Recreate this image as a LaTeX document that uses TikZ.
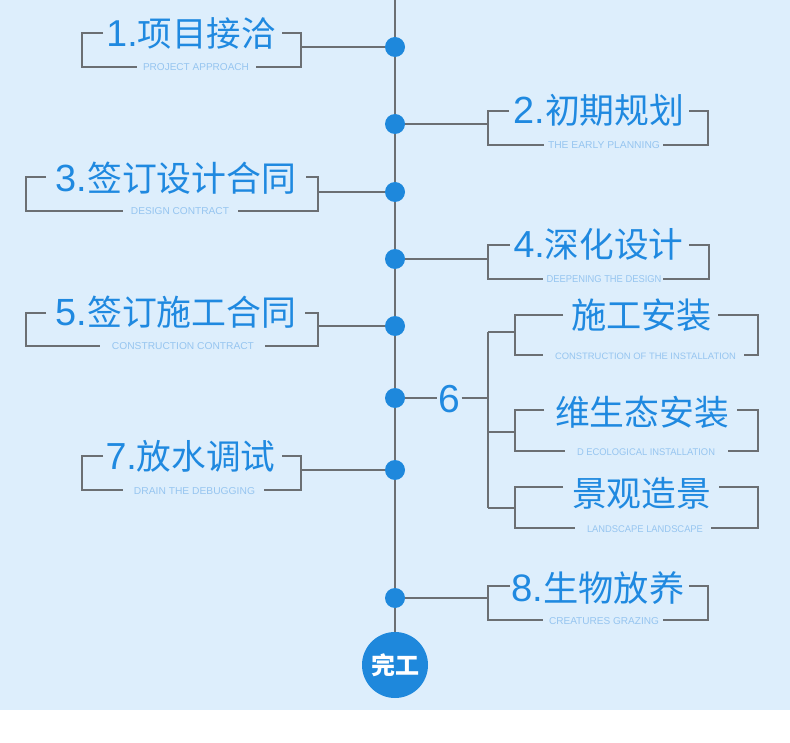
\documentclass[tikz,border=0pt]{standalone}
\usepackage{fontspec}
\usepackage{graphicx}
\setmainfont{Liberation Sans}
\newfontfamily\cjk{Noto Sans CJK SC}
\definecolor{bg}{HTML}{DDEEFC}
\definecolor{tblue}{HTML}{1F89E0}
\definecolor{dblue}{HTML}{1E88DC}
\definecolor{sblue}{HTML}{96C5F0}
\definecolor{lgray}{HTML}{6B6F73}
\tikzset{
  bline/.style={draw=lgray, line width=1.2pt},
  dotnode/.style={circle, fill=dblue, minimum size=20pt, inner sep=0pt},
  ttlnode/.style={text=tblue, inner sep=0pt, anchor=base},
  subnode/.style={text=sblue, inner sep=0pt, anchor=base},
}
\newcommand{\T}[2]{{\fontsize{38}{40}\selectfont #1}{\fontsize{35}{40}\selectfont\cjk #2}}
\newcommand{\C}[1]{{\fontsize{35}{40}\selectfont\cjk #1}}
\newcommand{\bbox}[9]{%
  \coordinate (#1-l) at (#2,{(#4+#5)/2});
  \coordinate (#1-r) at (#3,{(#4+#5)/2});
  \draw[bline] (#6,#4) -- (#2,#4) -- (#2,#5) -- (#8,#5);
  \draw[bline] (#7,#4) -- (#3,#4) -- (#3,#5) -- (#9,#5);
}
\newcommand{\ttl}[5]{\node[ttlnode] (#1) at (#2,#3) {\resizebox{#4pt}{!}{#5}};}
\newcommand{\subt}[6]{\node[subnode] (#1) at (#2,#3) {\resizebox{#4pt}{#5pt}{\fontsize{10}{12}\selectfont #6}};}
\begin{document}
\begin{tikzpicture}[x=1pt,y=-1pt]
\useasboundingbox (0,0) rectangle (790,743);
\fill[white] (0,0) rectangle (790,743);
\fill[bg] (0,0) rectangle (790,710);

% boxes
\bbox{b1}{82}{301}{33}{67}{103}{282}{137}{256}
\bbox{b2}{488}{708}{111}{145}{509}{689}{544}{663}
\bbox{b3}{26}{318}{177}{211}{46}{306}{123}{238}
\bbox{b4}{488}{709}{245}{279}{510}{689}{543}{663}
\bbox{b5}{26}{318}{313}{346}{46}{305}{100}{265}
\bbox{b7}{82}{301}{456}{490}{103}{282}{123}{264}
\bbox{b8}{488}{708}{586}{620}{510}{689}{543}{663}
\bbox{s1}{515}{758}{315}{355}{563}{718}{543}{744}
\bbox{s2}{515}{758}{410}{451}{544}{737}{565}{728}
\bbox{s3}{515}{758}{487}{528}{563}{719}{575}{711}

% timeline
\coordinate (top) at (395,0);
\node[circle, fill=dblue, minimum size=66pt, inner sep=0pt] (fin) at (395,665) {};
\draw[bline] (top) -- (fin.north);

\node[dotnode] (d1) at (395,47) {};
\node[dotnode] (d2) at (395,124) {};
\node[dotnode] (d3) at (395,192) {};
\node[dotnode] (d4) at (395,259) {};
\node[dotnode] (d5) at (395,326) {};
\node[dotnode] (d6) at (395,398) {};
\node[dotnode] (d7) at (395,470) {};
\node[dotnode] (d8) at (395,598) {};

\draw[bline] (d1.west) -- (d1.center -| b1-r);
\draw[bline] (d2.east) -- (d2.center -| b2-l);
\draw[bline] (d3.west) -- (d3.center -| b3-r);
\draw[bline] (d4.east) -- (d4.center -| b4-l);
\draw[bline] (d5.west) -- (d5.center -| b5-r);
\draw[bline] (d7.west) -- (d7.center -| b7-r);
\draw[bline] (d8.east) -- (d8.center -| b8-l);

% group 6
\node[text=tblue, inner sep=1pt, anchor=base, font=\fontsize{39}{40}\selectfont] (six) at (449.5,412) {6};
\coordinate (g0) at (488,398);
\coordinate (g1) at (488,332);
\coordinate (g2) at (488,432);
\coordinate (g3) at (488,508);
\draw[bline] (d6.east) -- (six.west |- d6.center);
\draw[bline] (six.east |- d6.center) -- (g0);
\draw[bline] (g1) -- (g3);
\draw[bline] (g1) -- (g1 -| s1-l);
\draw[bline] (g2) -- (g2 -| s2-l);
\draw[bline] (g3) -- (g3 -| s3-l);

\node[text=white, inner sep=0pt, font=\fontsize{24}{26}\selectfont\cjk\bfseries] (fint) at (fin.center) {完工};

% titles
\ttl{t1}{191}{47}{169}{\T{1.}{项目接洽}}
\ttl{t2}{599}{124}{171}{\T{2.}{初期规划}}
\ttl{t3}{176}{192}{241}{\T{3.}{签订设计合同}}
\ttl{t4}{598.5}{258}{170}{\T{4.}{深化设计}}
\ttl{t5}{176}{326}{241}{\T{5.}{签订施工合同}}
\ttl{t7}{190.5}{469}{170}{\T{7.}{放水调试}}
\ttl{t8}{598}{601}{173}{\T{8.}{生物放养}}
\ttl{u1}{641.5}{329}{141}{\C{施工安装}}
\ttl{u2}{642}{425}{174}{\C{维生态安装}}
\ttl{u3}{641.5}{506}{139}{\C{景观造景}}

% subtitles
\subt{e1}{196}{71}{106}{7}{PROJECT APPROACH}
\subt{e2}{604}{149}{112}{7}{THE EARLY PLANNING}
\subt{e3}{180}{215}{98}{7}{DESIGN CONTRACT}
\subt{e4}{604}{283}{115}{7}{DEEPENING THE DESIGN}
\subt{e5}{183}{350}{142}{7}{CONSTRUCTION CONTRACT}
\subt{e7}{194.5}{494}{121}{7}{DRAIN THE DEBUGGING}
\subt{e8}{604}{624}{110}{7}{CREATURES GRAZING}
\subt{f1}{645.5}{359}{181}{6.5}{CONSTRUCTION OF THE INSTALLATION}
\subt{f2}{646}{455}{138}{6.8}{D ECOLOGICAL INSTALLATION}
\subt{f3}{645}{532}{116}{6.8}{LANDSCAPE LANDSCAPE}
\end{tikzpicture}
\end{document}
